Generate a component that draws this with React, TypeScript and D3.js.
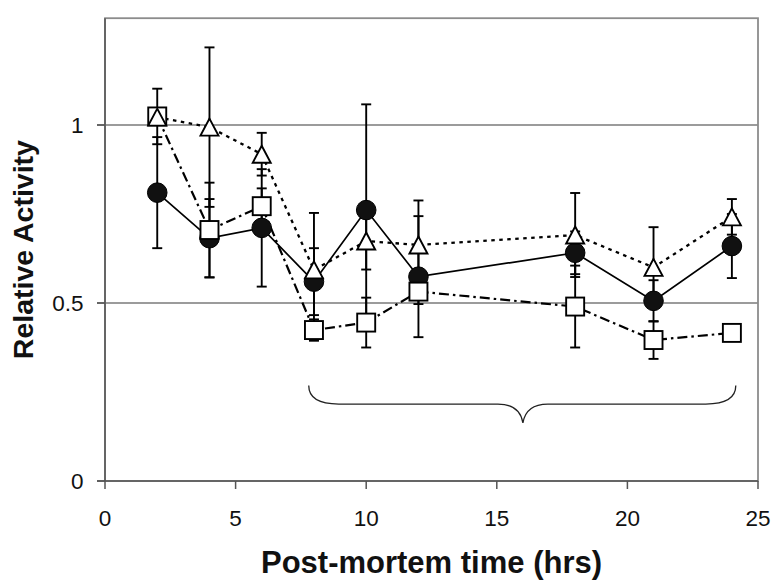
import React from "react";
import * as d3 from "d3";

const hours = [2, 4, 6, 8, 10, 12, 18, 21, 24];
const circleVals = [0.81, 0.682, 0.711, 0.56, 0.761, 0.574, 0.641, 0.506, 0.66];
const circleErr = [0.156, 0.11, 0.165, 0.094, 0.297, 0.17, 0.06, 0.058, 0.09];
const squareVals = [1.024, 0.705, 0.772, 0.424, 0.445, 0.532, 0.49, 0.396, 0.416];
const squareErr = [0.078, 0.133, 0.05, 0.03, 0.07, 0.035, 0.115, 0.053, 0.0];
const triangleVals = [1.022, 0.994, 0.918, 0.593, 0.674, 0.663, 0.691, 0.6, 0.742];
const triangleErr = [0.02, 0.224, 0.06, 0.16, 0.08, 0.125, 0.118, 0.113, 0.05];

const xTicks = [0, 5, 10, 15, 20, 25];
const yTicks = [0, 0.5, 1];
const gridVals = [0.5, 1];
const xTitle = "Post-mortem time (hrs)";
const yTitle = "Relative Activity";
// brace annotation (data coords): start, tip, end
const braceX = [7.8, 16, 24.15];
const braceY = [0.268, 0.216, 0.163];

const W = 783;
const H = 587;
const L = 105, R = 758, T = 18.2, B = 481;

export default function App() {
  const x = d3.scaleLinear().domain([0, 25]).range([L, R]);
  const y = d3.scaleLinear().domain([0, 1.3]).range([B, T]);
  const font = "'Liberation Sans', Arial, Helvetica, sans-serif";

  const line = d3
    .line<number>()
    .x((_, i) => x(hours[i]))
    .y((d) => y(d));

  const errBars = (vals: number[], errs: number[], key: string) =>
    vals.map((v, i) =>
      errs[i] > 0 ? (
        <g key={key + i} stroke="#000" strokeWidth={1.9}>
          <line x1={x(hours[i])} x2={x(hours[i])} y1={y(v + errs[i])} y2={y(v - errs[i])} />
          <line x1={x(hours[i]) - 5} x2={x(hours[i]) + 5} y1={y(v + errs[i])} y2={y(v + errs[i])} />
          <line x1={x(hours[i]) - 5} x2={x(hours[i]) + 5} y1={y(v - errs[i])} y2={y(v - errs[i])} />
        </g>
      ) : null
    );

  const bx0 = x(braceX[0]), bxm = x(braceX[1]), bx1 = x(braceX[2]);
  const by0 = y(braceY[0]), byh = y(braceY[1]), byt = y(braceY[2]);
  const c = 30;
  const bracePath = `M${bx0},${by0} Q${bx0},${byh} ${bx0 + c},${byh} L${bxm - 25},${byh} Q${bxm - 3},${byh} ${bxm},${byt} Q${bxm + 3},${byh} ${bxm + 25},${byh} L${bx1 - c},${byh} Q${bx1},${byh} ${bx1},${by0}`;

  const tri = (cx: number, cy: number) => {
    const h = 17, w = 18;
    return `M${cx},${cy - h / 2} L${cx + w / 2},${cy + h / 2} L${cx - w / 2},${cy + h / 2} Z`;
  };

  return (
    <svg width={W} height={H} style={{ position: "absolute", left: 0, top: 0, background: "#fff" }} fontFamily={font}>
      <rect x={0} y={0} width={W} height={H} fill="#fff" />
      {gridVals.map((g) => (
        <line key={"g" + g} x1={L - 8} x2={R} y1={y(g)} y2={y(g)} stroke="#7a7a7a" strokeWidth={1.5} />
      ))}
      <rect x={L} y={y(1.3)} width={R - L} height={B - y(1.3)} fill="none" stroke="#8c8c8c" strokeWidth={1.8} />
      <line x1={L} x2={L} y1={y(1.3)} y2={B} stroke="#555" strokeWidth={1.5} />
      <line x1={L - 8} x2={R} y1={B} y2={B} stroke="#555" strokeWidth={1.5} />
      {yTicks.map((t) => (
        <g key={"yt" + t}>
          <line x1={L - 8} x2={L} y1={y(t)} y2={y(t)} stroke="#555" strokeWidth={1.5} />
          <text x={83.5} y={y(t)} dy="0.36em" textAnchor="end" fontSize={22.5} fill="#111">
            {t}
          </text>
        </g>
      ))}
      {xTicks.map((t) => (
        <g key={"xt" + t}>
          <line x1={x(t)} x2={x(t)} y1={B} y2={B + 8} stroke="#555" strokeWidth={1.5} />
          <text x={x(t)} y={525.5} textAnchor="middle" fontSize={22.5} fill="#111">
            {t}
          </text>
        </g>
      ))}
      <text x={(L + R) / 2} y={573} textAnchor="middle" fontSize={31} fontWeight="bold" fill="#111">
        {xTitle}
      </text>
      <text
        transform={`translate(33, ${(T + B) / 2}) rotate(-90)`}
        textAnchor="middle"
        fontSize={28.5}
        fontWeight="bold"
        fill="#111"
      >
        {yTitle}
      </text>

      <path d={bracePath} fill="none" stroke="#222" strokeWidth={1.3} />

      <path d={line(circleVals) || ""} fill="none" stroke="#000" strokeWidth={1.7} />
      <path d={line(squareVals) || ""} fill="none" stroke="#000" strokeWidth={2.2} strokeDasharray="10,4,2.5,4" />
      <path d={line(triangleVals) || ""} fill="none" stroke="#000" strokeWidth={2.3} strokeDasharray="3.5,4.5" />

      {errBars(circleVals, circleErr, "ce")}
      {errBars(squareVals, squareErr, "se")}
      {errBars(triangleVals, triangleErr, "te")}

      {circleVals.map((v, i) => (
        <circle key={"c" + i} cx={x(hours[i])} cy={y(v)} r={9.8} fill="#111" stroke="#000" strokeWidth={1} />
      ))}
      {squareVals.map((v, i) => (
        <rect key={"s" + i} x={x(hours[i]) - 9} y={y(v) - 9} width={18} height={18} fill="#fff" stroke="#000" strokeWidth={1.9} />
      ))}
      {triangleVals.map((v, i) => (
        <path key={"t" + i} d={tri(x(hours[i]), y(v))} fill="#fff" stroke="#000" strokeWidth={1.9} />
      ))}
    </svg>
  );
}
